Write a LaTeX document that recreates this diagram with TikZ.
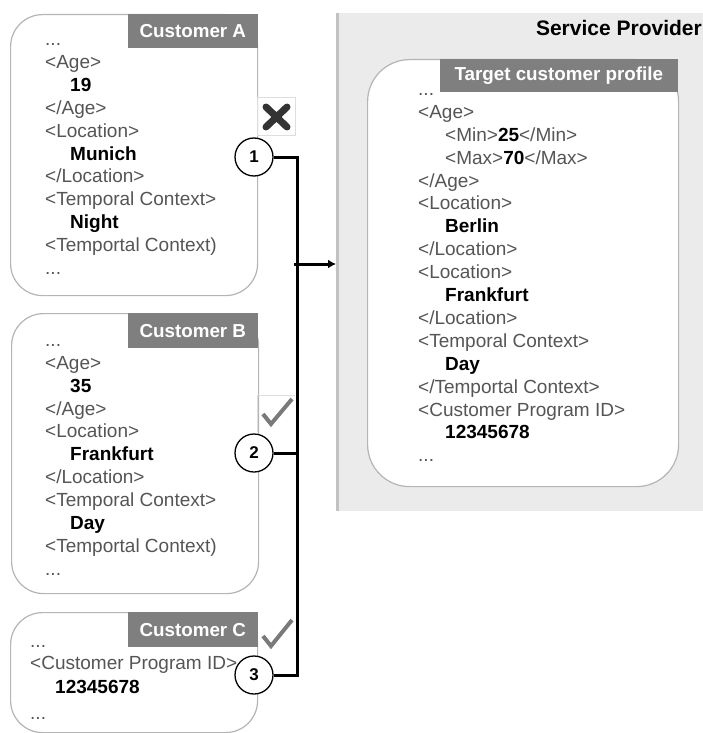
\documentclass[tikz,border=0pt]{standalone}
\usepackage{fontspec}
\setmainfont{Liberation Sans}
\usetikzlibrary{arrows.meta}
\definecolor{tagc}{HTML}{555555}
\definecolor{hdrc}{HTML}{7F7F7F}
\definecolor{bordc}{HTML}{B5B5B5}
\definecolor{spbg}{HTML}{EBEBEB}
\definecolor{spline}{HTML}{C2C2C2}
\definecolor{iconc}{HTML}{333333}
\definecolor{checkc}{HTML}{7A7A7A}
\definecolor{framec}{HTML}{DEDEDE}
\newcommand\dd{...}
\newcommand\V[1]{\hspace*{25pt}\textcolor{black}{\bfseries #1}}
\newcommand\VV[1]{\hspace*{27pt}\textcolor{black}{\bfseries #1}}
\newcommand\B[1]{\textcolor{black}{\bfseries #1}}
\begin{document}
\begin{tikzpicture}[x=1pt,y=-1pt,
  txt/.style={anchor=base west, inner sep=0pt, text=tagc, font=\fontsize{19}{22}\selectfont},
  cbox/.style={draw=bordc, line width=1.2pt, fill=white, rounded corners=32pt, anchor=north west, inner sep=0pt},
  hdr/.style={fill=hdrc, text=white, font=\fontsize{18.8}{22}\selectfont\bfseries, anchor=north east, inner sep=0pt},
  circ/.style={circle, draw=black, line width=1.3pt, fill=white, minimum size=38pt, inner sep=0pt, font=\fontsize{17}{20}\selectfont\bfseries},
  conn/.style={line width=3pt, draw=black},
  xframe/.style={draw=framec, line width=1pt},
  checkmark/.style={draw=checkc, line width=4pt},
  crossmark/.style={draw=iconc, line width=7pt, line cap=round}]
\useasboundingbox (0,0) rectangle (703,733);

% Service provider area
\node[fill=spbg, anchor=north west, minimum width=367pt, minimum height=498pt, inner sep=0pt] (sp) at (336,13) {};
\draw[spline, line width=3pt] (sp.north west) ++(1.5pt,0) -- ([xshift=1.5pt]sp.south west);
\node[anchor=base east, inner sep=0pt, font=\fontsize{21}{24}\selectfont\bfseries] (spt) at (702,36) {Service Provider};

% Target profile
\node[cbox, rounded corners=42pt, minimum width=311pt, minimum height=427pt] (tbox) at (367,59) {};
\node[hdr, minimum width=238pt, minimum height=33pt] (th) at (678,59) {Target customer profile};
\foreach \lineT [count=\i from 0] in {\dd,<Age>,\hspace*{27pt}<Min>\B{25}</Min>,\hspace*{27pt}<Max>\B{70}</Max>,</Age>,<Location>,\VV{Berlin},</Location>,<Location>,\VV{Frankfurt},</Location>,<Temporal Context>,\VV{Day},</Temportal Context>,<Customer Program ID>,\VV{12345678},\dd}
  \node[txt] (t\i) at (418,95.4+22.9*\i) {\lineT};

% Customer A
\node[cbox, minimum width=247pt, minimum height=281pt] (boxA) at (10,14) {};
\node[hdr, minimum width=130pt, minimum height=34pt] (hA) at (258,14) {Customer A};
\foreach \lineT [count=\i from 0] in {\dd,<Age>,\V{19},</Age>,<Location>,\V{Munich},</Location>,<Temporal Context>,\V{Night},<Temportal Context),\dd}
  \node[txt] (a\i) at (45,45.5+22.9*\i) {\lineT};

% Customer B
\node[cbox, minimum width=247pt, minimum height=280pt] (boxB) at (11,313) {};
\node[hdr, minimum width=130pt, minimum height=35pt] (hB) at (258,313) {Customer B};
\foreach \lineT [count=\i from 0] in {\dd,<Age>,\V{35},</Age>,<Location>,\V{Frankfurt},</Location>,<Temporal Context>,\V{Day},<Temportal Context),\dd}
  \node[txt] (b\i) at (45,346.3+22.9*\i) {\lineT};

% Customer C
\node[cbox, minimum width=247pt, minimum height=120pt] (boxC) at (10,612) {};
\node[hdr, minimum width=130pt, minimum height=35pt] (hC) at (258,612) {Customer C};
\node[txt] (c0) at (30,647) {\dd};
\node[txt] (c1t) at (30,669.8) {<Customer Program ID>};
\node[txt] (c2t) at (30,693) {\V{12345678}};
\node[txt] (c3t) at (30,719) {\dd};

% icons
\draw[xframe] (257,98) rectangle (295,135);
\draw[crossmark] (266,107) -- (287,127) (287,107) -- (266,127);
\draw[xframe] (257,432) -- (257,395) -- (295,395);
\draw[checkmark] (263,414) -- (271,424) -- (292,399);
\draw[checkmark] (263,636) -- (271,646) -- (292,620);

% connectors
\coordinate (j) at (297,264);
\node[circ] (c1) at (254,157) {1};
\node[circ] (c2) at (254,453) {2};
\node[circ] (c3) at (254,675) {3};
\draw[conn] (c1.east) -| (j) |- (c3.east);
\draw[conn] (c2.east) -- (c2.east -| j);
\draw[conn, -{Latex[length=8pt,width=9pt]}] ([xshift=-3pt]j) -- (j -| sp.west);
\end{tikzpicture}
\end{document}
